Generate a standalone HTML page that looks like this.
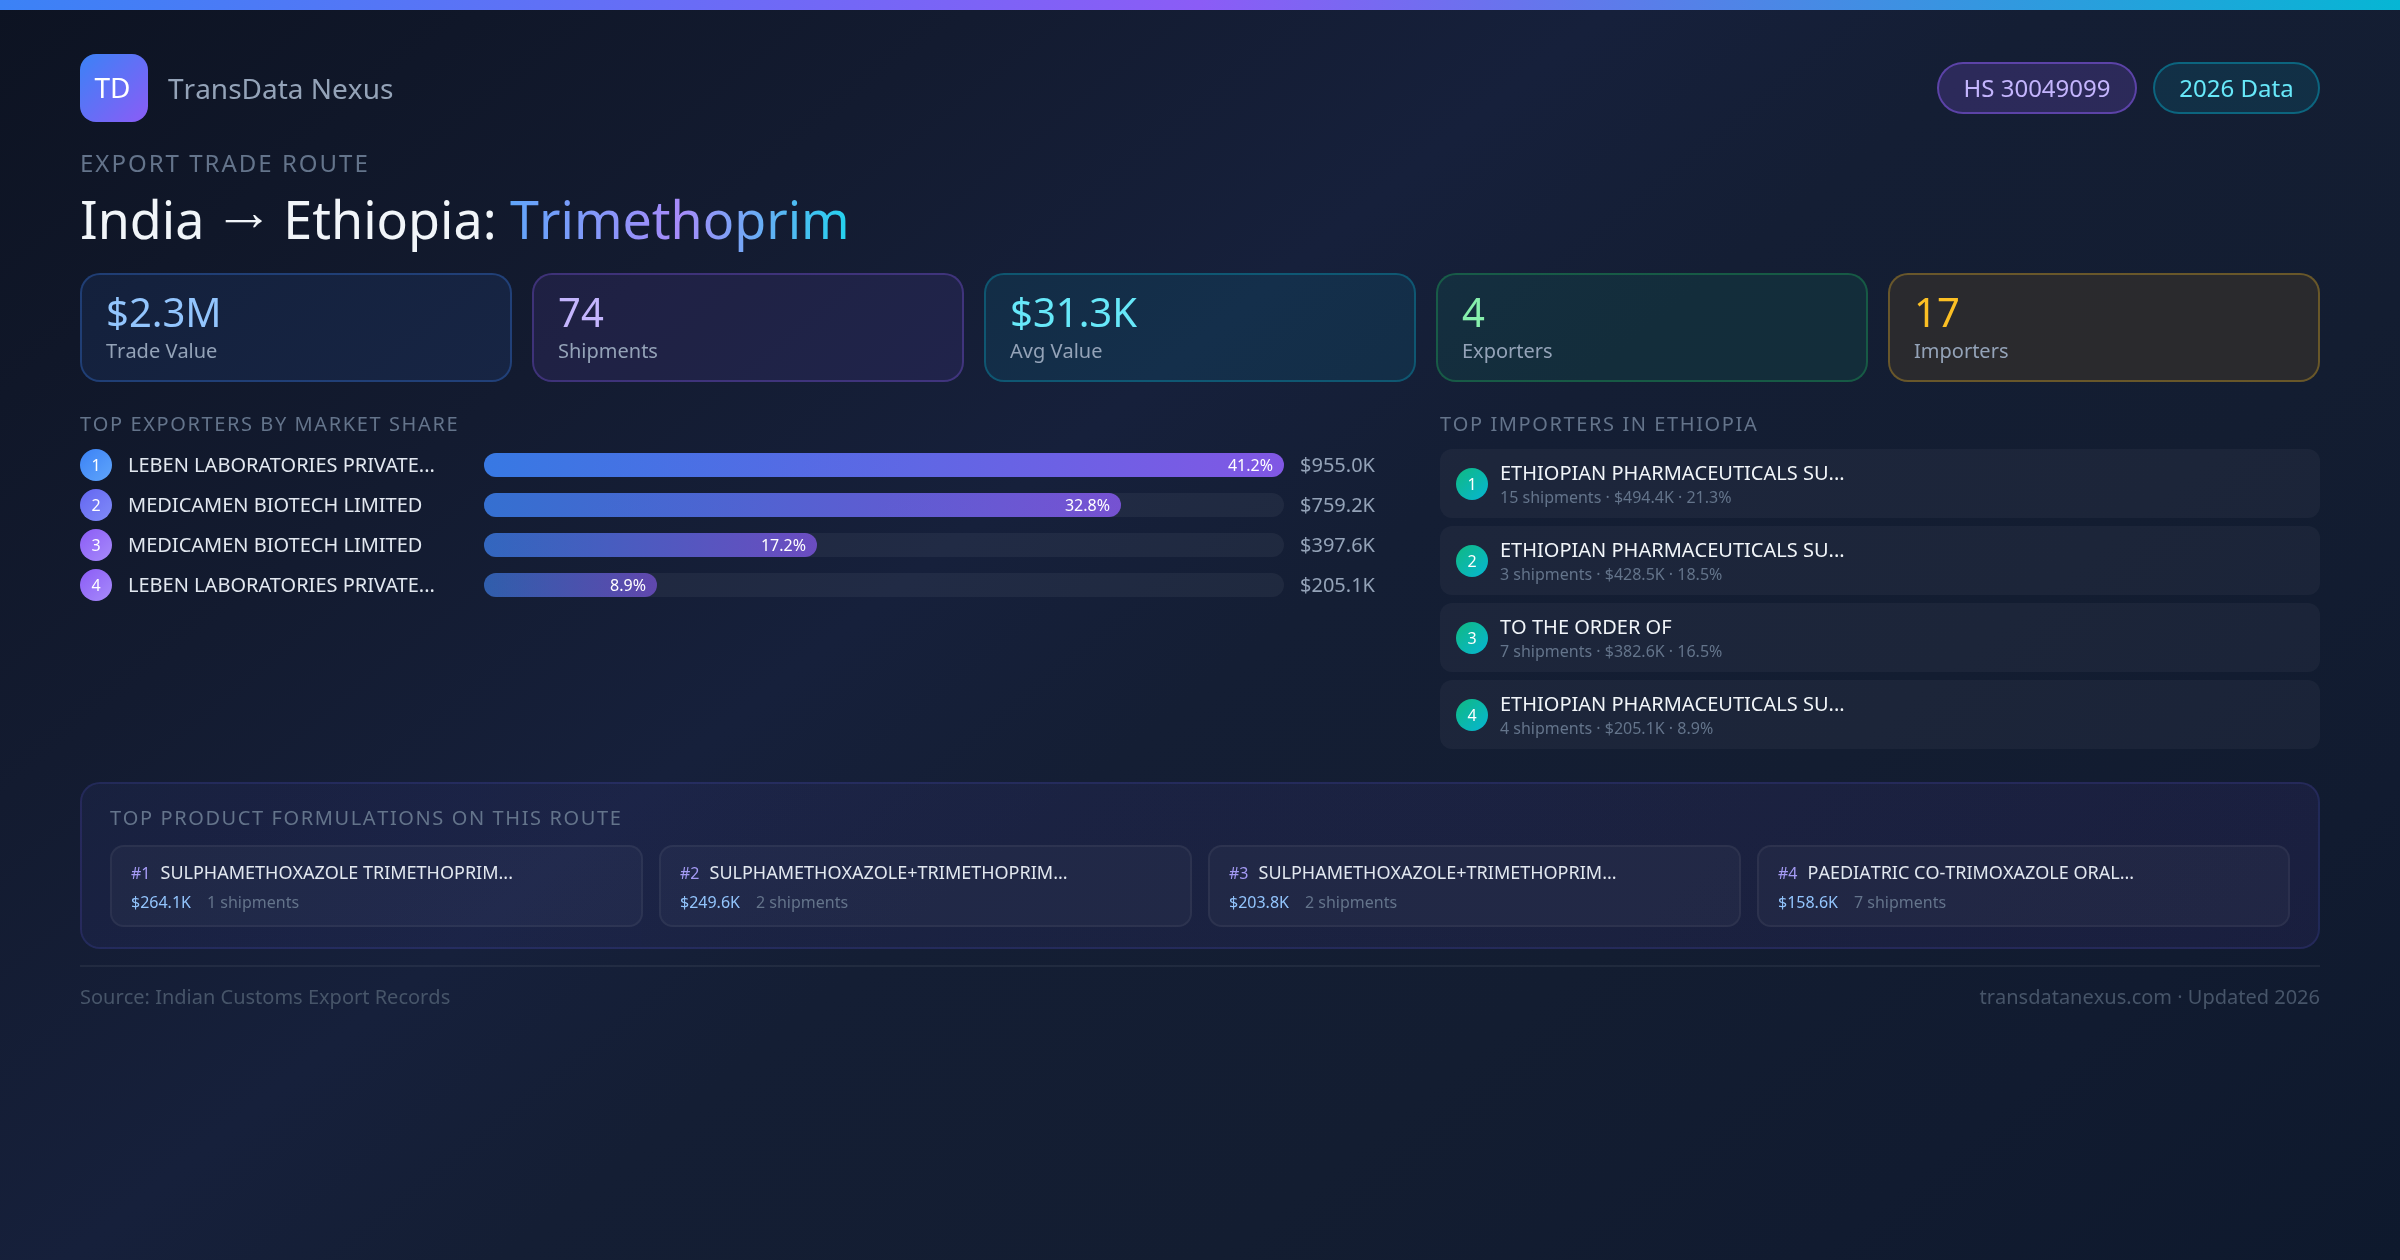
<!DOCTYPE html>
<html><head><meta charset="utf-8">
<style>
*{margin:0;padding:0;box-sizing:border-box}
html,body{width:2400px;height:1260px;overflow:hidden}
body{position:relative;font-kerning:none;font-family:"Noto Sans","Noto Sans Symbols","Open Sans","Noto Sans CJK JP","Liberation Sans",sans-serif;color:#e2e8f0;
background:linear-gradient(141deg,#0d1322 0%,#131b30 25%,#16203b 41%,#141e34 52%,#131d31 70%,#111b30 85%,#0e192d 100%);}
@media (max-width:1300px){html{zoom:0.5}}
.wrap{position:absolute;left:0;top:0;width:2400px;height:1260px;will-change:transform}
.topbar{position:absolute;left:0;top:0;width:2400px;height:10px;background:linear-gradient(90deg,#3b82f6 0%,#8b5cf6 50%,#06b6d4 100%)}
.logo{position:absolute;left:80px;top:54px;width:68px;height:68px;border-radius:16px;background:linear-gradient(135deg,#3b82f6,#8b5cf6);color:#fff;font-size:28px;font-weight:400;display:flex;align-items:center;justify-content:center;line-height:1;padding:0 3px 2px 0}
.brand{position:absolute;left:168px;top:70px;font-size:28px;line-height:36px;color:#94a3b8;white-space:nowrap}
.badge{position:absolute;top:62px;height:52px;border-radius:26px;border:2px solid;font-size:24px;line-height:48px;text-align:center;white-space:nowrap}
.b1{left:1937px;width:200px;background:rgba(139,92,246,0.2);border-color:rgba(139,92,246,0.5);color:#c4b5fd}
.b2{left:2153px;width:167px;background:rgba(6,182,212,0.12);border-color:rgba(6,182,212,0.4);color:#67e8f9}
.eyebrow{position:absolute;left:80px;top:148px;font-size:24px;line-height:30px;letter-spacing:2px;color:#64748b;white-space:nowrap}
h1{position:absolute;left:80px;top:187px;font-size:52px;line-height:64px;font-weight:400;color:#f1f5f9;white-space:nowrap}
.grad{background:linear-gradient(90deg,#60a5fa,#a78bfa,#22d3ee);-webkit-background-clip:text;background-clip:text;color:transparent}
.card{position:absolute;top:273px;width:432px;height:109px;border-radius:20px;border:2px solid}
.card .v{position:absolute;left:24px;top:11px;font-size:40px;line-height:52px;white-space:nowrap}
.card .l{position:absolute;left:24px;top:62px;font-size:20px;line-height:28px;color:#94a3b8;white-space:nowrap}
.c1{left:80px;background:rgba(59,130,246,0.10);border-color:rgba(59,130,246,0.30)}.c1 .v{color:#93c5fd}
.c2{left:532px;background:rgba(139,92,246,0.10);border-color:rgba(139,92,246,0.30)}.c2 .v{color:#c4b5fd}
.c3{left:984px;background:rgba(6,182,212,0.10);border-color:rgba(6,182,212,0.30)}.c3 .v{color:#67e8f9}
.c4{left:1436px;background:rgba(16,185,129,0.10);border-color:rgba(34,197,94,0.30)}.c4 .v{color:#86efac}
.c5{left:1888px;background:rgba(245,158,11,0.10);border-color:rgba(251,191,36,0.30)}.c5 .v{color:#fbbf24}
.sh{position:absolute;font-size:20px;line-height:26px;letter-spacing:1.6px;color:#64748b;white-space:nowrap}
.erow{position:absolute;left:80px;width:1295px;height:32px}
.num{position:absolute;width:32px;height:32px;border-radius:16px;color:#fff;font-size:16px;font-weight:400;display:flex;align-items:center;justify-content:center;line-height:1}
.erow .num{left:0;top:0}
.erow .nm{position:absolute;left:48px;top:0;font-kerning:normal;font-size:20px;line-height:32px;color:#e2e8f0;white-space:nowrap}
.track{position:absolute;left:404px;top:4px;width:800px;height:24px;border-radius:12px;background:rgba(255,255,255,0.05)}
.fill{position:absolute;left:0;top:0;height:24px;border-radius:12px;background:linear-gradient(90deg,#3b82f6,#8b5cf6);color:#fff;font-size:16px;line-height:24px;text-align:right;padding-right:11px;white-space:nowrap}
.erow .val{position:absolute;right:0;top:0;font-size:20px;line-height:32px;color:#94a3b8;white-space:nowrap}
.irow{position:absolute;left:1440px;width:880px;height:69px;border-radius:12px;background:rgba(255,255,255,0.04)}
.irow .num{left:16px;top:19px;background:linear-gradient(135deg,#10b981,#06b6d4)}
.irow .nm{position:absolute;left:60px;top:10px;font-size:20px;line-height:28px;color:#f1f5f9;white-space:nowrap}
.irow .sub{position:absolute;left:60px;top:37px;font-size:16px;line-height:22px;color:#64748b;white-space:nowrap}
.fbox{position:absolute;left:80px;top:782px;width:2240px;height:167px;border-radius:20px;border:2px solid rgba(99,102,241,0.15);background:linear-gradient(90deg,rgba(99,102,241,0.07),rgba(139,92,246,0.08))}
.fcard{position:absolute;top:845px;width:533px;height:82px;border-radius:14px;border:2px solid rgba(255,255,255,0.05);background:rgba(255,255,255,0.03)}
.fcard .t{position:absolute;left:19px;top:11px;font-size:18px;line-height:28px;color:#e2e8f0;white-space:nowrap}
.fcard .t b{font-weight:400;font-size:16px;color:#a59bf5;margin-right:10px}
.fcard .s{position:absolute;left:19px;top:43px;font-size:16px;line-height:24px;white-space:nowrap}
.fcard .s .p{color:#93c5fd;margin-right:16px}
.fcard .s .q{color:#64748b}
.fline{position:absolute;left:80px;top:965px;width:2240px;height:2px;background:rgba(255,255,255,0.06)}
.foot{position:absolute;top:982px;font-size:20px;line-height:30px;color:#475569;white-space:nowrap}
</style></head><body>
<div class="wrap">
<div class="topbar"></div>
<div class="logo">TD</div>
<div class="brand">TransData Nexus</div>
<div class="badge b1">HS 30049099</div>
<div class="badge b2">2026 Data</div>
<div class="eyebrow">EXPORT TRADE ROUTE</div>
<h1>India → Ethiopia: <span class="grad">Trimethoprim</span></h1>

<div class="card c1"><div class="v">$2.3M</div><div class="l">Trade Value</div></div>
<div class="card c2"><div class="v">74</div><div class="l">Shipments</div></div>
<div class="card c3"><div class="v">$31.3K</div><div class="l">Avg Value</div></div>
<div class="card c4"><div class="v">4</div><div class="l">Exporters</div></div>
<div class="card c5"><div class="v">17</div><div class="l">Importers</div></div>

<div class="sh" style="left:80px;top:411px">TOP EXPORTERS BY MARKET SHARE</div>
<div class="erow" style="top:449px"><div class="num" style="background:linear-gradient(135deg,#3b82f6,#60a5fa)">1</div><div class="nm">LEBEN LABORATORIES PRIVATE...</div><div class="track"><div class="fill" style="width:800px;background:linear-gradient(90deg,rgba(59,130,246,.9),rgba(139,92,246,.9))">41.2%</div></div><div class="val">$955.0K</div></div>
<div class="erow" style="top:489px"><div class="num" style="background:linear-gradient(135deg,#6366f1,#818cf8)">2</div><div class="nm">MEDICAMEN BIOTECH LIMITED</div><div class="track"><div class="fill" style="width:637px;background:linear-gradient(90deg,rgba(59,130,246,.8),rgba(139,92,246,.8))">32.8%</div></div><div class="val">$759.2K</div></div>
<div class="erow" style="top:529px"><div class="num" style="background:linear-gradient(135deg,#8b5cf6,#a78bfa)">3</div><div class="nm">MEDICAMEN BIOTECH LIMITED</div><div class="track"><div class="fill" style="width:333px;background:linear-gradient(90deg,rgba(59,130,246,.7),rgba(139,92,246,.7))">17.2%</div></div><div class="val">$397.6K</div></div>
<div class="erow" style="top:569px"><div class="num" style="background:linear-gradient(135deg,#8b5cf6,#a78bfa)">4</div><div class="nm">LEBEN LABORATORIES PRIVATE...</div><div class="track"><div class="fill" style="width:173px;background:linear-gradient(90deg,rgba(59,130,246,.6),rgba(139,92,246,.6))">8.9%</div></div><div class="val">$205.1K</div></div>

<div class="sh" style="left:1440px;top:411px">TOP IMPORTERS IN ETHIOPIA</div>
<div class="irow" style="top:449px"><div class="num">1</div><div class="nm">ETHIOPIAN PHARMACEUTICALS SU...</div><div class="sub">15 shipments · $494.4K · 21.3%</div></div>
<div class="irow" style="top:526px"><div class="num">2</div><div class="nm">ETHIOPIAN PHARMACEUTICALS SU...</div><div class="sub">3 shipments · $428.5K · 18.5%</div></div>
<div class="irow" style="top:603px"><div class="num">3</div><div class="nm">TO THE ORDER OF</div><div class="sub">7 shipments · $382.6K · 16.5%</div></div>
<div class="irow" style="top:680px"><div class="num">4</div><div class="nm">ETHIOPIAN PHARMACEUTICALS SU...</div><div class="sub">4 shipments · $205.1K · 8.9%</div></div>

<div class="fbox"></div>
<div class="sh" style="left:110px;top:805px">TOP PRODUCT FORMULATIONS ON THIS ROUTE</div>
<div class="fcard" style="left:110px"><div class="t"><b>#1</b>SULPHAMETHOXAZOLE TRIMETHOPRIM...</div><div class="s"><span class="p">$264.1K</span><span class="q">1 shipments</span></div></div>
<div class="fcard" style="left:659px"><div class="t"><b>#2</b>SULPHAMETHOXAZOLE+TRIMETHOPRIM...</div><div class="s"><span class="p">$249.6K</span><span class="q">2 shipments</span></div></div>
<div class="fcard" style="left:1208px"><div class="t"><b>#3</b>SULPHAMETHOXAZOLE+TRIMETHOPRIM...</div><div class="s"><span class="p">$203.8K</span><span class="q">2 shipments</span></div></div>
<div class="fcard" style="left:1757px"><div class="t"><b>#4</b>PAEDIATRIC CO-TRIMOXAZOLE ORAL...</div><div class="s"><span class="p">$158.6K</span><span class="q">7 shipments</span></div></div>

<div class="fline"></div>
<div class="foot" style="left:80px">Source: Indian Customs Export Records</div>
<div class="foot" style="right:80px">transdatanexus.com · Updated 2026</div>
</div>
</body></html>
